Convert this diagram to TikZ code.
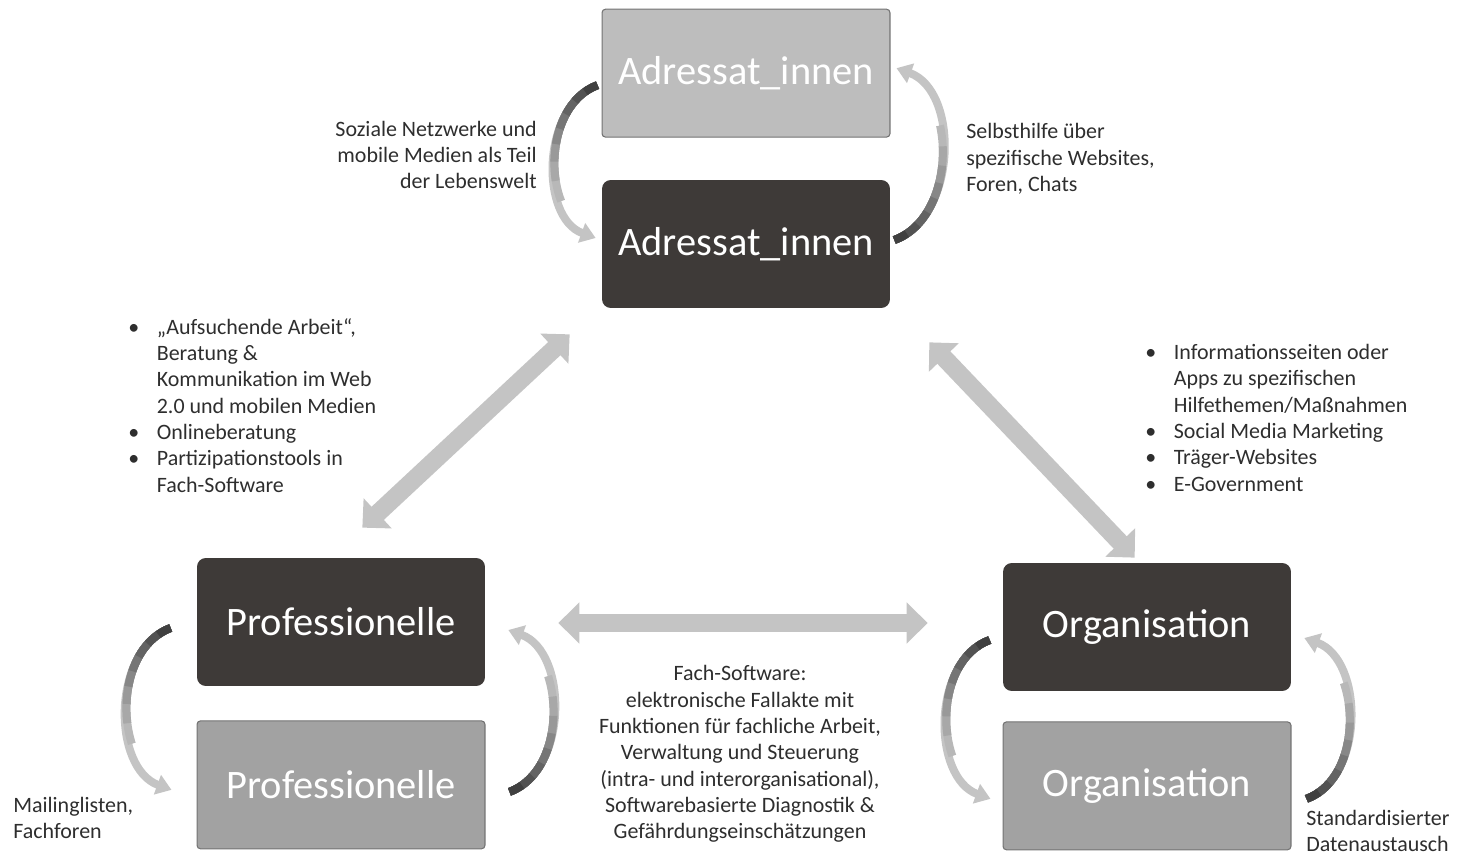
\documentclass[tikz,border=0pt]{standalone}
\usepackage{fontspec}
\setmainfont{Carlito}
\usepackage{tikz}
\usetikzlibrary{arrows.meta,positioning}
\definecolor{boxdark}{HTML}{3E3A38}
\definecolor{boxlight}{HTML}{A2A2A2}
\definecolor{boxpale}{HTML}{BDBDBD}
\definecolor{arrowpale}{HTML}{C4C4C4}
\definecolor{txt}{HTML}{2E2E2E}

\begin{document}
\begin{tikzpicture}[x=0.02cm,y=-0.02cm,
	dark node/.style={rectangle,rounded corners=5pt,fill=boxdark,text=white,minimum width=5.76cm,minimum height=2.56cm,font=\fontsize{23}{27}\selectfont},
	light node/.style={dark node,rounded corners=2pt,fill=boxlight,draw=black!55,line width=0.6pt},
	note/.style={text=txt,inner sep=0pt,font=\fontsize{12.5}{15}\selectfont},
	fat arrow/.style={draw=arrowpale,line width=0.36cm,{Triangle[length=0.42cm,width=0.8cm]}-{Triangle[length=0.42cm,width=0.8cm]}},
	shade/.style args={#1 on #2}{postaction={draw=black!#1,-,dash pattern=on #2 off 500pt}},
	loop arrow/.style={draw=arrowpale,line width=0.16cm,-{Triangle[length=0.3cm,width=0.4cm]},
		shade=28 on 76pt,shade=34 on 64pt,shade=40 on 53pt,shade=47 on 43pt,
		shade=54 on 34pt,shade=61 on 25pt,shade=68 on 16pt,shade=75 on 8pt}]

	\useasboundingbox (0,0) rectangle (1477,858);

	\node[dark node] (adrdark) at (746,244) {Adressat\_innen};
	\node[light node,fill=boxpale] (adrlight) [above=0.84cm of adrdark] {Adressat\_innen};
	\node[dark node] (profdark) at (341,622) {Professionelle};
	\node[light node] (proflight) [below=0.68cm of profdark] {Professionelle};
	\node[dark node] (orgdark) at (1147,627) {Organisation};
	\node[light node] (orglight) [below=0.6cm of orgdark] {Organisation};

	\path
	([shift={(-4,12)}]adrlight.west) edge[loop arrow,out=200,in=160] ([shift={(-6,-6)}]adrdark.west)
	([shift={(4,-4)}]adrdark.east) edge[loop arrow,out=20,in=-20] ([shift={(6,-5)}]adrlight.east)
	([shift={(-26,6)}]profdark.west) edge[loop arrow,out=200,in=160] ([shift={(-25,5)}]proflight.west)
	([shift={(24,7)}]proflight.east) edge[loop arrow,out=20,in=-20] ([shift={(23,8)}]profdark.east)
	([shift={(-13,13)}]orgdark.west) edge[loop arrow,out=200,in=160] ([shift={(-12,13)}]orglight.west)
	([shift={(15,13)}]orglight.east) edge[loop arrow,out=20,in=-20] ([shift={(13,11)}]orgdark.east);

	\coordinate (ap) at ([shift={(-32,26)}]adrdark.south west);
	\coordinate (pa) at ([shift={(-123,-30)}]profdark.north east);
	\coordinate (ao) at ([shift={(39,34)}]adrdark.south east);
	\coordinate (oa) at ([shift={(132,-5)}]orgdark.north west);
	\coordinate (po) at ([shift={(73,1)}]profdark.east);
	\coordinate (op) at ([shift={(-75,-4)}]orgdark.west);
	\draw[fat arrow] (ap) -- (pa);
	\draw[fat arrow] (ao) -- (oa);
	\draw[fat arrow] (po) -- (op);

	\node[note,align=right,anchor=east] (soziale) at (537,155) {Soziale Netzwerke und\\mobile Medien als Teil\\der Lebenswelt};
	\node[note,align=left,anchor=west] (selbst) at (966,159) {Selbsthilfe über\\spezifische Websites,\\Foren, Chats};
	\node[note,anchor=west] (profadr) at (128,408) {\begin{tabular}{@{}l@{\hspace{10pt}}l@{}}
		\textbullet & „Aufsuchende Arbeit“,\\
		& Beratung \&\\
		& Kommunikation  im Web\\
		& 2.0 und mobilen Medien\\
		\textbullet & Onlineberatung\\
		\textbullet & Partizipationstools in\\
		& Fach-Software
	\end{tabular}};
	\node[note,anchor=west] (orgadr) at (1145,420) {\begin{tabular}{@{}l@{\hspace{10pt}}l@{}}
		\textbullet & Informationsseiten oder\\
		& Apps zu spezifischen\\
		& Hilfethemen/Maßnahmen\\
		\textbullet & Social Media Marketing\\
		\textbullet & Träger-Websites\\
		\textbullet & E-Government
	\end{tabular}};
	\node[note,align=center] (software) at (740,754) {Fach-Software:\\elektronische Fallakte mit\\Funktionen  für fachliche Arbeit,\\Verwaltung und Steuerung\\(intra- und interorganisational),\\Softwarebasierte Diagnostik \&\\Gefährdungseinschätzungen};
	\node[note,align=left,anchor=west] (mailing) at (13,818) {Mailinglisten,\\Fachforen};
	\node[note,align=left,anchor=west] (daten) at (1306,831) {Standardisierter\\Datenaustausch};

\end{tikzpicture}
\end{document}
